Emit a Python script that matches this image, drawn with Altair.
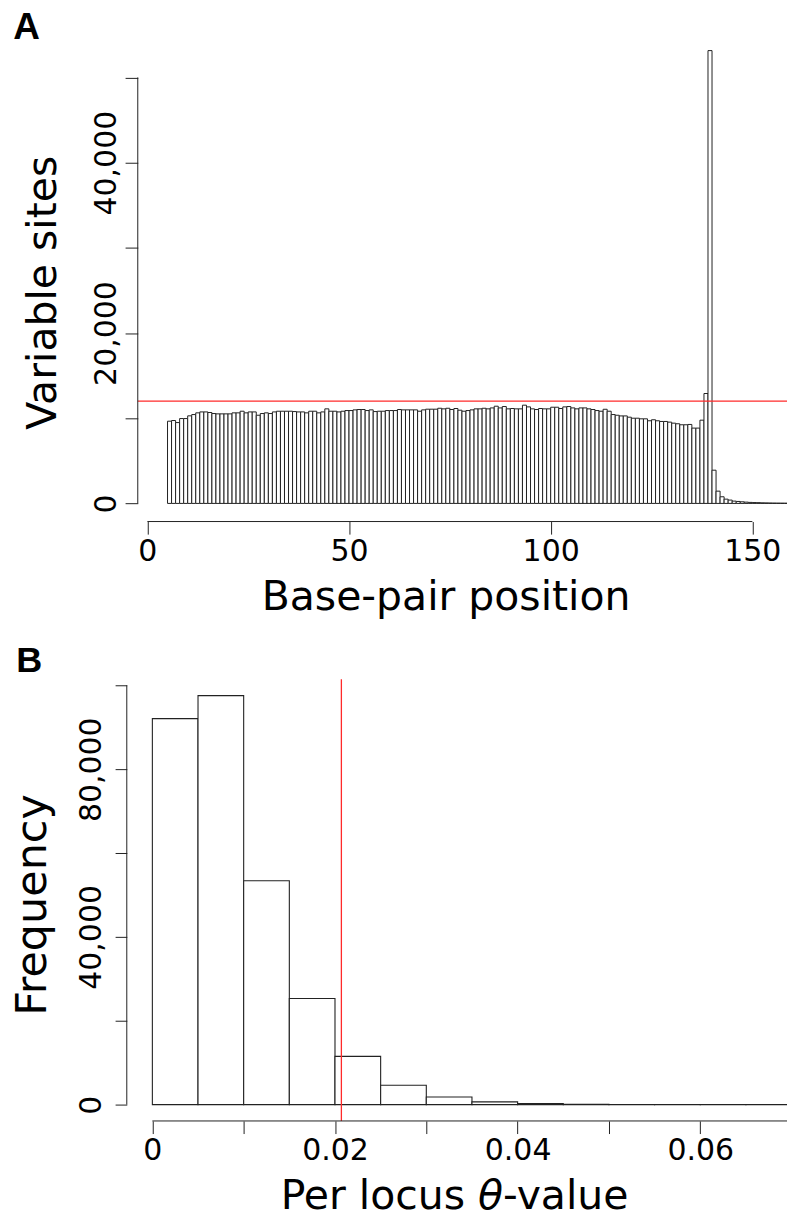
import altair as alt
import pandas as pd

FONT = "DejaVu Sans"
INK = "#222222"
RED = "#ff2a2a"

# ---------------- data ----------------
# Panel A: number of variable sites in each 1-bp bin (bin starts at bp_start)
bp_start = list(range(5, 159))
variable_sites = [
    9650, 9730, 9490, 9960, 9960, 10280, 10430, 10630, 10740, 10740,
    10670, 10550, 10510, 10510, 10510, 10510, 10630, 10630, 10820, 10630,
    10740, 10740, 10350, 10550, 10630, 10550, 10740, 10820, 10820, 10820,
    10820, 10780, 10740, 10740, 10630, 10820, 10820, 10630, 10740, 11100,
    10820, 10820, 10740, 10820, 10900, 10900, 10980, 11020, 11020, 10900,
    10980, 10780, 10820, 10820, 10900, 10900, 10900, 11020, 10980, 10980,
    10980, 10980, 10820, 10980, 11060, 11060, 11060, 11170, 11100, 11170,
    11020, 11140, 10940, 10820, 10900, 10980, 11100, 11100, 11170, 11100,
    11210, 11410, 11210, 11370, 11100, 11140, 11100, 11100, 11530, 11330,
    11100, 11020, 11140, 11100, 11100, 11290, 11290, 11140, 11330, 11370,
    11210, 11100, 11210, 11210, 11100, 11020, 10900, 10820, 11050, 10820,
    10430, 10350, 10270, 10270, 10120, 10000, 10000, 9930, 9930, 9700,
    9820, 9700, 9620, 9620, 9540, 9420, 9350, 9230, 9230, 9270,
    8840, 8840, 9770, 12900, 53150, 3900, 1440, 780, 500, 390,
    270, 230, 190, 150, 120, 100, 90, 70, 60, 50,
    40, 35, 30, 25,
]
sites_ref = 12000
bp_ticks = [0, 50, 100, 150]
sites_ticks = [0, 10000, 20000, 30000, 40000, 50000]

# Panel B: histogram of per-locus theta (bins of width 0.005)
theta_start = [0.000, 0.005, 0.010, 0.015, 0.020, 0.025, 0.030,
               0.035, 0.040, 0.045, 0.050, 0.055, 0.060, 0.065]
theta_freq = [92070, 97550, 53400, 25300, 11500, 4620, 1830,
              640, 240, 90, 40, 20, 10, 5]
theta_bin = 0.005
theta_ref = 0.0207
theta_ticks = [0.0, 0.01, 0.02, 0.03, 0.04, 0.05, 0.06]
freq_ticks = [0, 20000, 40000, 60000, 80000, 100000]

# ---------------- geometry ----------------
W = 661.3      # plot width of both panels
HA = 490.4     # plot height, panel A
HB = 442.4     # plot height, panel B


def one(**kw):
    return pd.DataFrame({k: [v] for k, v in kw.items()})


axis_common = dict(
    domain=False, grid=False, tickColor=INK, tickWidth=1,
    labelFont=FONT, labelColor="black", labelFlush=False,
    labelOverlap=False, labelBound=False, labelFontSize=30,
    titleFont=FONT, titleFontWeight="normal", titleColor="black",
)

# ---------------- panel A ----------------
dfa = pd.DataFrame({"start": bp_start, "sites": variable_sites})
dfa["end"] = dfa["start"] + 1
dfa["zero"] = 0

xa = alt.Scale(domain=[-5.10, 158.59], nice=False, zero=False)
ya = alt.Scale(domain=[-2128, 55338], nice=False, zero=False)

xa_axis = alt.Axis(
    values=bp_ticks, tickSize=12.6, labelPadding=2, labelBaseline="top",
    title="Base-pair position", titleFontSize=41, titleX=319.3, titleY=88.5,
    titleAlign="center", titleBaseline="alphabetic", **axis_common)
ya_axis = alt.Axis(
    values=sites_ticks, offset=-11, tickSize=12.7,
    labelExpr="datum.value % 20000 == 0 ? format(datum.value, ',') : ''",
    labelAngle=270, labelAlign="center", labelBaseline="alphabetic",
    labelPadding=10, title="Variable sites", titleFontSize=41,
    titleAngle=270, titleX=-82.7, titleY=260.7, titleAlign="center",
    titleBaseline="alphabetic", **axis_common)

# keeps the top-left corner of the page fixed
corner = alt.Chart(one(a=0)).mark_rule(color="white", strokeWidth=1).encode(
    x=alt.value(-126.2), x2=alt.value(-125.2), y=alt.value(-29.6)
)

bars_a = alt.Chart(dfa).mark_rect(
    fill="white", stroke=INK, strokeWidth=1, clip=True
).encode(
    x=alt.X("start:Q", scale=xa, axis=xa_axis),
    x2="end:Q",
    y=alt.Y("sites:Q", scale=ya, axis=ya_axis),
    y2="zero:Q",
)

ref_a = alt.Chart(one(v=sites_ref)).mark_rule(color=RED, strokeWidth=1.3).encode(
    y=alt.Y("v:Q", scale=ya, axis=ya_axis), x=alt.value(11), x2=alt.value(W)
)

yline_a = alt.Chart(one(lo=0, hi=50000)).mark_rule(color=INK, strokeWidth=1).encode(
    x=alt.value(11), y=alt.Y("lo:Q", scale=ya, axis=ya_axis), y2="hi:Q"
)
xline_a = alt.Chart(one(lo=0, hi=150)).mark_rule(color=INK, strokeWidth=1).encode(
    y=alt.value(HA), x=alt.X("lo:Q", scale=xa, axis=xa_axis), x2="hi:Q"
)

label_a = alt.Chart(one(t="A")).mark_text(
    font="Liberation Sans", fontWeight="bold", fontSize=37,
    align="left", baseline="alphabetic", color="black"
).encode(text="t:N", x=alt.value(-113.7), y=alt.value(6.9))

panel_a = alt.layer(corner, bars_a, ref_a, yline_a, xline_a, label_a).properties(
    width=W, height=HA
)

# ---------------- panel B ----------------
dfb = pd.DataFrame({"start": theta_start, "freq": theta_freq})
dfb["end"] = dfb["start"] + theta_bin
dfb["zero"] = 0

xb = alt.Scale(domain=[-0.0028, 0.0695], nice=False, zero=False)
yb = alt.Scale(domain=[-3902, 101450], nice=False, zero=False)

xb_axis = alt.Axis(
    values=theta_ticks, tickSize=12.6, labelPadding=2, labelBaseline="top",
    labelExpr="round(datum.value * 100) % 2 == 0 ? (datum.value == 0 ? '0' : format(datum.value, '.2f')) : ''",
    title=None, **axis_common)
yb_axis = alt.Axis(
    values=freq_ticks, tickSize=11.7,
    labelExpr="datum.value % 40000 == 0 ? format(datum.value, ',') : ''",
    labelAngle=270, labelAlign="center", labelBaseline="alphabetic",
    labelPadding=15, title="Frequency", titleFontSize=43, titleAngle=270,
    titleX=-81.7, titleY=225.6, titleAlign="center",
    titleBaseline="alphabetic", **axis_common)

bars_b = alt.Chart(dfb).mark_rect(
    fill="white", stroke=INK, strokeWidth=1.1, clip=True
).encode(
    x=alt.X("start:Q", scale=xb, axis=xb_axis),
    x2="end:Q",
    y=alt.Y("freq:Q", scale=yb, axis=yb_axis),
    y2="zero:Q",
)

ref_b = alt.Chart(one(v=theta_ref)).mark_rule(color=RED, strokeWidth=1.3).encode(
    x=alt.X("v:Q", scale=xb, axis=xb_axis), y=alt.value(0), y2=alt.value(HB)
)

yline_b = alt.Chart(one(lo=0, hi=100000)).mark_rule(color=INK, strokeWidth=1).encode(
    x=alt.value(0), y=alt.Y("lo:Q", scale=yb, axis=yb_axis), y2="hi:Q"
)
xline_b = alt.Chart(one(lo=0.0)).mark_rule(color=INK, strokeWidth=1).encode(
    y=alt.value(HB), x=alt.X("lo:Q", scale=xb, axis=xb_axis), x2=alt.value(W)
)

title_y = HB + 88.5
xt_1 = alt.Chart(one(t="Per locus")).mark_text(
    font=FONT, fontSize=41, align="right", baseline="alphabetic", color="black"
).encode(text="t:N", x=alt.value(338.8), y=alt.value(title_y))
xt_2 = alt.Chart(one(t="θ")).mark_text(
    font=FONT, fontSize=41, fontStyle="italic", align="center",
    baseline="alphabetic", color="black"
).encode(text="t:N", x=alt.value(364.3), y=alt.value(title_y))
xt_3 = alt.Chart(one(t="-value")).mark_text(
    font=FONT, fontSize=41, align="left", baseline="alphabetic", color="black"
).encode(text="t:N", x=alt.value(376.8), y=alt.value(title_y))

label_b = alt.Chart(one(t="B")).mark_text(
    font="Liberation Sans", fontWeight="bold", fontSize=36,
    align="left", baseline="alphabetic", color="black"
).encode(text="t:N", x=alt.value(-110.7), y=alt.value(-6.9))

panel_b = alt.layer(bars_b, ref_b, yline_b, xline_b, xt_1, xt_2, xt_3, label_b).properties(
    width=W, height=HB
)

chart = alt.vconcat(
    panel_a, panel_b, spacing=157.4, bounds="flush", padding=0
).configure(
    font=FONT, background="white", view=alt.ViewConfig(stroke=None)
)

chart.save("out.html", embed_options={"renderer": "svg", "actions": False})
